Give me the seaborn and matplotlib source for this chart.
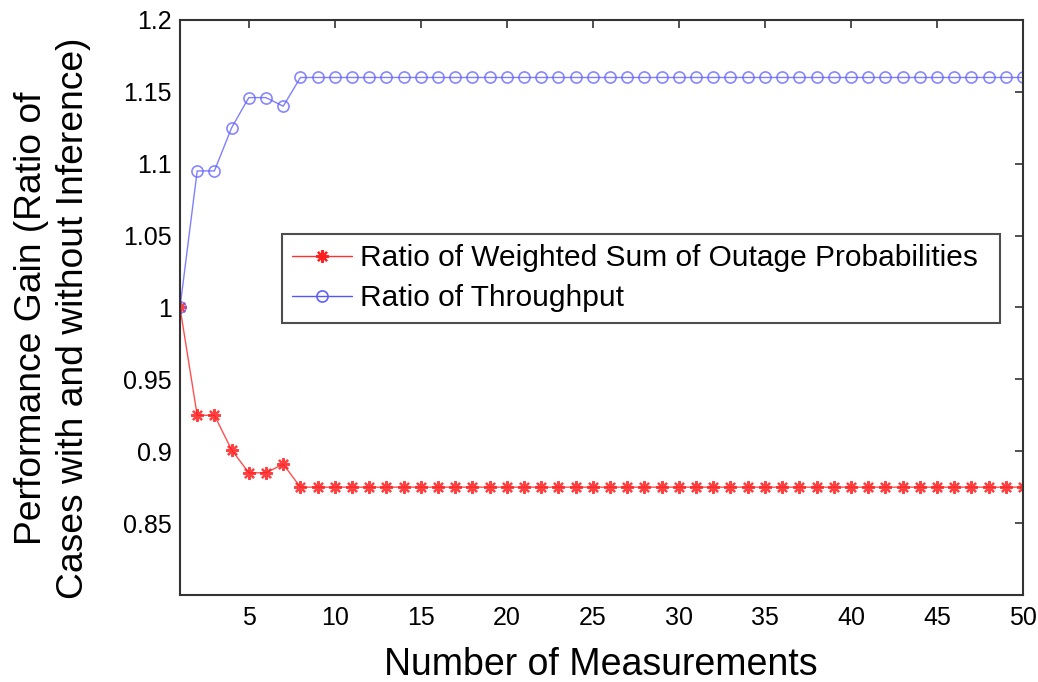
import matplotlib
matplotlib.use("Agg")
import matplotlib.pyplot as plt
import seaborn as sns
import numpy as np
import pandas as pd

sns.set_style("white")
plt.rcParams['font.family'] = ['Liberation Sans', 'DejaVu Sans']
plt.rcParams['text.color'] = 'black'
plt.rcParams['axes.labelcolor'] = 'black'

measurements = list(range(1, 51))
outage_ratio = [1.0, 0.925, 0.925, 0.901, 0.885, 0.885, 0.891] + [0.875] * 43
throughput_ratio = [1.0, 1.095, 1.095, 1.125, 1.146, 1.146, 1.140] + [1.160] * 43
series_names = ["Ratio of Weighted Sum of Outage Probabilities", "Ratio of Throughput"]
x_ticks = [5, 10, 15, 20, 25, 30, 35, 40, 45, 50]
y_ticks = [0.85, 0.9, 0.95, 1.0, 1.05, 1.1, 1.15, 1.2]
y_tick_labels = ["0.85", "0.9", "0.95", "1", "1.05", "1.1", "1.15", "1.2"]

df = pd.DataFrame({"x": measurements, "outage": outage_ratio, "thr": throughput_ratio})

fig = plt.figure(figsize=(10.38, 6.82), dpi=100)
ax = fig.add_axes([0.1734, 0.1276, 0.8121, 0.8431])

sns.lineplot(data=df, x="x", y="outage", ax=ax, color="#ff3030", lw=1.0,
             marker=(8, 2, 0), markersize=9, markeredgecolor="#ff2020",
             markerfacecolor="#ff2020", markeredgewidth=1.6,
             label=series_names[0], alpha=0.85)
sns.lineplot(data=df, x="x", y="thr", ax=ax, color="#5555ff", lw=1.0,
             marker="o", markersize=8, markeredgecolor="#6060ff",
             markerfacecolor="none", markeredgewidth=1.2,
             label=series_names[1], alpha=0.75)

ax.set_xlim(1, 50)
ax.set_ylim(0.8, 1.2)
ax.set_xticks(x_ticks)
ax.set_yticks(y_ticks)
ax.set_yticklabels(y_tick_labels)
ax.tick_params(direction="in", length=6, width=1.2, labelsize=18,
               top=True, right=True, colors="#333333", labelcolor="black")
ax.tick_params(axis="x", pad=8)
ax.tick_params(axis="y", pad=6)
for s in ax.spines.values():
    s.set_color("#333333")
    s.set_linewidth(1.5)

ax.set_xlabel("Number of Measurements", fontsize=27)
ax.xaxis.set_label_coords(0.4994, -0.09)
ax.set_ylabel("Performance Gain (Ratio of\nCases with and without Inference)",
              fontsize=26.8, linespacing=1.24)
ax.yaxis.set_label_coords(-0.106, 0.482)

leg = ax.legend(loc="upper left", bbox_to_anchor=(0.121, 0.5, 0.8517, 0.1278),
                mode="expand", fontsize=21.5, frameon=True, fancybox=False,
                borderpad=0.35, labelspacing=0.4, handlelength=2.0,
                handletextpad=0.25, borderaxespad=0)
leg.get_frame().set_edgecolor("#222222")
leg.get_frame().set_linewidth(1.5)
for h in leg.get_lines():
    h.set_alpha(1.0)
for t in leg.get_texts():
    t.set_color("black")

fig.savefig("out.png", dpi=100)
